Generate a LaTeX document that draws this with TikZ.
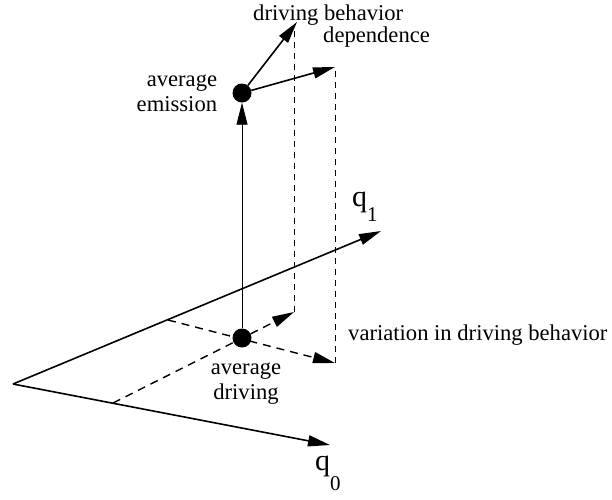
\documentclass[tikz,border=0pt]{standalone}
\usepackage{fontspec}
\setmainfont{Liberation Serif}
\usetikzlibrary{arrows.meta,positioning}

\newcommand{\qsub}[2]{q\raisebox{-#2pt}{\fontsize{21}{21}\selectfont #1}}

\begin{document}
\begin{tikzpicture}[x=1pt,y=-1pt,
  >={Triangle[length=22pt,width=11pt]},
  axis/.style={line width=1.6pt},
  guide/.style={line width=1.4pt, dash pattern=on 8pt off 6pt},
  riser/.style={line width=0.9pt, dash pattern=on 6pt off 5pt},
  dot/.style={circle, fill, inner sep=0pt, minimum size=19pt},
  lbl/.style={inner sep=0pt, font=\fontsize{22.6}{25}\selectfont},
  qlbl/.style={inner sep=0pt, font=\fontsize{30}{30}\selectfont}]
\useasboundingbox (0,0) rectangle (612,499);

% axes
\coordinate (O) at (13,384);
\coordinate (q1end) at (381,231);
\coordinate (q0end) at (330,445);
\draw[axis,->] (O) -- (q1end);
\draw[axis,->] (O) -- (q0end);

% variation in driving behavior
\coordinate (onq0) at (113,403);
\coordinate (onq1) at (168,320);
\coordinate (varA) at (294,312);
\coordinate (varB) at (335,363);
\draw[guide,->] (onq0) -- (varA);
\draw[guide,->] (onq1) -- (varB);

\node[dot] (drive) at (242,338) {};
\node[dot] (emis) at (242,93) {};

% driving behavior dependence
\coordinate (depA) at (297,22);
\coordinate (depB) at (335,67);
\coordinate (topA) at (294,30);
\draw[line width=0.9pt,->] (drive) -- (emis);
\draw[axis,->] (emis) -- (depA);
\draw[axis,->] (emis) -- (depB);
\draw[riser] (varA) -- (topA);
\draw[riser] (varB) -- (depB);

% labels
\node[lbl, align=right, left=15pt of emis] (emisLbl) {average\\emission};
\node[lbl, align=center, below=15pt of drive, xshift=4pt] (driveLbl) {average\\driving};
\node[lbl, anchor=base west] (depLbl1) at (253,20) {driving behavior};
\node[lbl, anchor=base west] (depLbl2) at (323,42) {dependence};
\node[lbl, anchor=base west] (varLbl) at (348,340) {variation in driving behavior};
\node[qlbl, anchor=base west] (q1Lbl) at (352,206) {\qsub{1}{15}};
\node[qlbl, anchor=base west] (q0Lbl) at (315,470) {\qsub{0}{20}};

\end{tikzpicture}
\end{document}
